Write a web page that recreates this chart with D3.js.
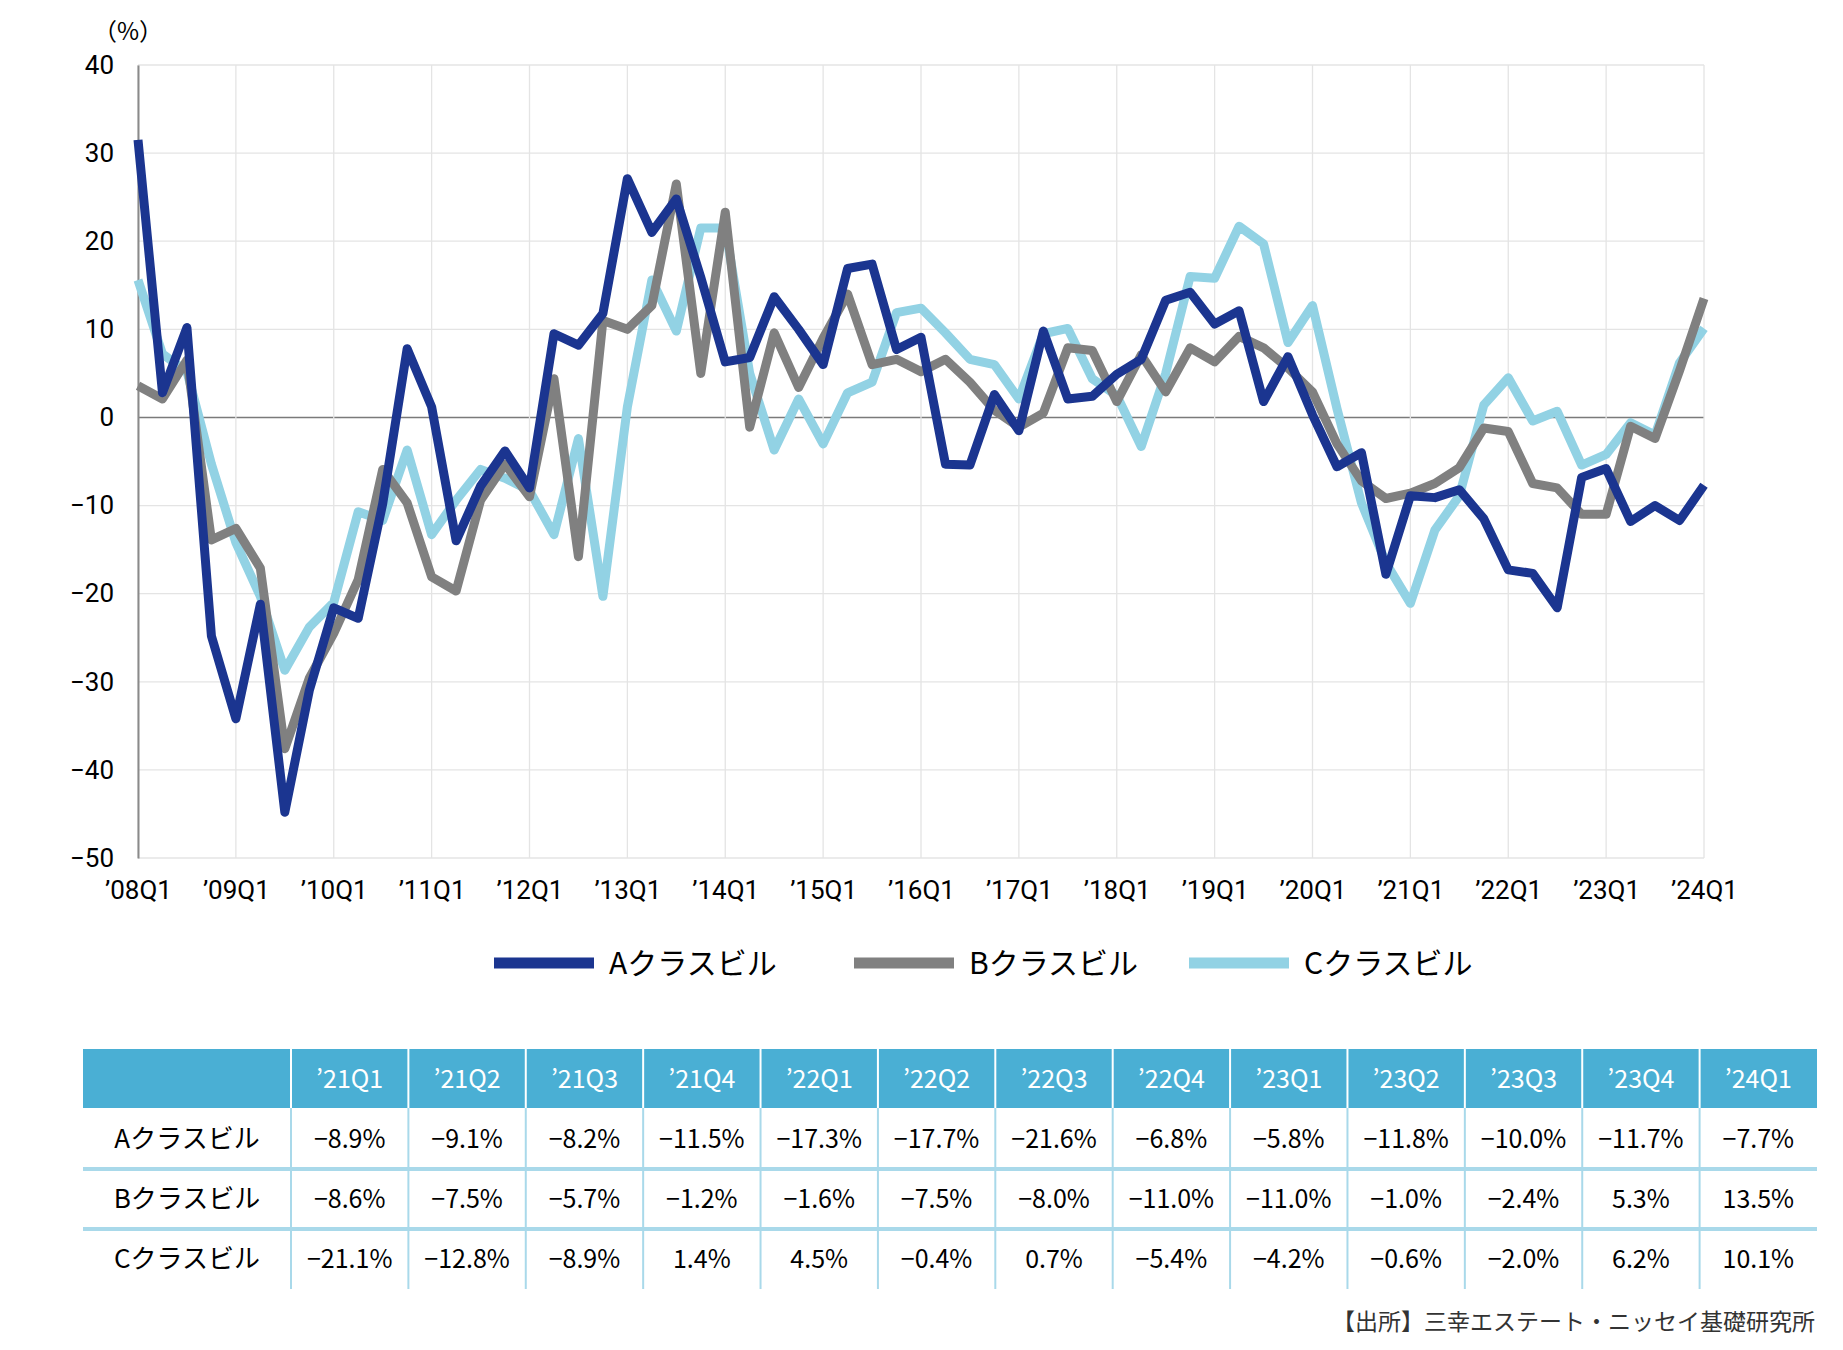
<!DOCTYPE html>
<html>
<head>
<meta charset="utf-8">
<script src="https://cdn.jsdelivr.net/npm/d3@7"></script>
<style>
  body { margin: 0; background: #fff; }
  svg { display: block; font-family: "Noto Sans CJK JP", "Noto Sans", sans-serif; }
</style>
</head>
<body>
<svg id="chart" width="1843" height="1350"></svg>
<script>
// quarterly series, '08Q1 .. '24Q1 (65 points)
const classA = [31.5, 2.8, 10.2, -24.8, -34.2, -21.2, -44.8, -31.0, -21.6, -22.8, -9.8, 7.8, 1.2, -14.0, -7.8, -3.8,
  -8.0, 9.5, 8.2, 11.8, 27.1, 21.0, 24.8, 15.9, 6.3, 6.8, 13.7, 10.0, 6.0, 16.9, 17.4, 7.7,
  9.1, -5.3, -5.4, 2.6, -1.5, 9.8, 2.1, 2.4, 4.9, 6.6, 13.3, 14.2, 10.6, 12.1, 1.8, 6.9,
  0.3, -5.6, -4.0, -17.8, -8.9, -9.1, -8.2, -11.5, -17.3, -17.7, -21.6, -6.8, -5.8, -11.8, -10.0, -11.7, -7.7];
const classB = [3.6, 2.1, 6.5, -13.9, -12.6, -17.1, -37.6, -29.6, -24.5, -18.4, -5.9, -9.7, -18.1, -19.7, -9.4, -5.3,
  -9.0, 4.4, -15.8, 11.0, 10.0, 12.7, 26.5, 5.0, 23.3, -1.1, 9.6, 3.4, 9.0, 14.0, 6.0, 6.6,
  5.2, 6.6, 4.0, 0.8, -1.1, 0.5, 7.9, 7.6, 1.8, 7.1, 2.9, 7.9, 6.3, 9.2, 7.9, 5.6,
  2.9, -3.0, -7.2, -9.2, -8.6, -7.5, -5.7, -1.2, -1.6, -7.5, -8.0, -11.0, -11.0, -1.0, -2.4, 5.3, 13.5];
const classC = [15.6, 7.2, 5.2, -5.3, -14.2, -20.3, -28.7, -23.8, -21.0, -10.7, -11.7, -3.7, -13.3, -9.4, -5.9, -6.9,
  -8.3, -13.3, -2.4, -20.3, 1.2, 15.6, 9.8, 21.5, 21.5, 5.0, -3.7, 2.1, -3.0, 2.8, 4.0, 11.9,
  12.4, 9.6, 6.6, 6.0, 2.1, 9.5, 10.1, 4.4, 2.5, -3.3, 5.0, 16.0, 15.8, 21.7, 19.7, 8.5,
  12.7, 1.0, -9.7, -16.5, -21.1, -12.8, -8.9, 1.4, 4.5, -0.4, 0.7, -5.4, -4.2, -0.6, -2.0, 6.2, 10.1];

const seriesNames = ["Aクラスビル", "Bクラスビル", "Cクラスビル"];
const seriesColors = ["#1b3590", "#808080", "#92d2e4"];

const xTickLabels = ["’08Q1", "’09Q1", "’10Q1", "’11Q1", "’12Q1", "’13Q1", "’14Q1", "’15Q1", "’16Q1",
  "’17Q1", "’18Q1", "’19Q1", "’20Q1", "’21Q1", "’22Q1", "’23Q1", "’24Q1"];
const yTicks = [-50, -40, -30, -20, -10, 0, 10, 20, 30, 40];

const tableQuarters = ["’21Q1", "’21Q2", "’21Q3", "’21Q4", "’22Q1", "’22Q2", "’22Q3", "’22Q4",
  "’23Q1", "’23Q2", "’23Q3", "’23Q4", "’24Q1"];

const sourceText = "【出所】三幸エステート・ニッセイ基礎研究所";

const svg = d3.select("#chart");
const allSeries = [classA, classB, classC];

const plotL = 138, plotR = 1704, plotT = 65, plotB = 858;
const x = d3.scaleLinear().domain([0, classA.length - 1]).range([plotL, plotR]);
const y = d3.scaleLinear().domain([-50, 40]).range([plotB, plotT]);
const yearIdx = xTickLabels.map((d, i) => i * 4);

// grid
svg.append("g")
  .selectAll("line")
  .data(yTicks)
  .join("line")
  .attr("x1", plotL).attr("x2", plotR)
  .attr("y1", d => y(d)).attr("y2", d => y(d))
  .attr("stroke", d => d === 0 ? "#7a7a7a" : "#e4e4e4")
  .attr("stroke-width", d => d === 0 ? 1.5 : 1.3);

svg.append("g")
  .selectAll("line")
  .data(yearIdx)
  .join("line")
  .attr("x1", d => x(d)).attr("x2", d => x(d))
  .attr("y1", plotT).attr("y2", plotB)
  .attr("stroke", "#e4e4e4")
  .attr("stroke-width", 1.3);

// y axis
const yAxis = svg.append("g")
  .attr("transform", `translate(${plotL},0)`)
  .call(d3.axisLeft(y).tickValues(yTicks).tickSize(0).tickPadding(24));
yAxis.select(".domain").attr("stroke", "#8a8a8a").attr("stroke-width", 2);
yAxis.selectAll("text").attr("font-size", 26).attr("fill", "#000")
  .attr("font-family", "Roboto, 'Noto Sans', sans-serif");

svg.append("text")
  .attr("x", 128).attr("y", 40)
  .attr("text-anchor", "middle")
  .attr("font-size", 24)
  .text("（%）");

// x axis
const xAxis = svg.append("g")
  .attr("transform", `translate(0,${plotB})`)
  .call(d3.axisBottom(x)
    .tickValues(yearIdx)
    .tickFormat((d, i) => xTickLabels[i])
    .tickSize(0).tickPadding(23));
xAxis.select(".domain").remove();
xAxis.selectAll("text").attr("font-size", 26).attr("fill", "#000")
  .attr("font-family", "Roboto, 'Noto Sans', sans-serif");

// lines, drawn C, B, A so that A sits on top
const line = d3.line().x((d, i) => x(i)).y(d => y(d));
svg.append("g")
  .selectAll("path")
  .data([2, 1, 0])
  .join("path")
  .attr("d", k => line(allSeries[k]))
  .attr("fill", "none")
  .attr("stroke", k => seriesColors[k])
  .attr("stroke-width", 9)
  .attr("stroke-linejoin", "round");

// legend
const legendX = [494, 854, 1189];
const legend = svg.append("g")
  .selectAll("g")
  .data(seriesNames)
  .join("g")
  .attr("transform", (d, i) => `translate(${legendX[i]},963)`);
legend.append("line")
  .attr("x1", 0).attr("x2", 100)
  .attr("stroke", (d, i) => seriesColors[i])
  .attr("stroke-width", 11);
legend.append("text")
  .attr("x", 115).attr("y", 11)
  .attr("font-size", 30)
  .text(d => d);

// table
const tLeft = 83, tRight = 1817, firstColW = 208;
const colW = (tRight - tLeft - firstColW) / tableQuarters.length;
const rowTops = [1049, 1108, 1169, 1229, 1289];
const fmt = v => (v < 0 ? "−" : "") + Math.abs(v).toFixed(1) + "%";
const tableRows = allSeries.map(s => s.slice(-tableQuarters.length));

const table = svg.append("g");
table.append("rect")
  .attr("x", tLeft).attr("y", rowTops[0])
  .attr("width", tRight - tLeft).attr("height", rowTops[1] - rowTops[0])
  .attr("fill", "#4aafd4");

// header separators
table.selectAll(".hsep")
  .data(tableQuarters)
  .join("line")
  .attr("class", "hsep")
  .attr("x1", (d, i) => tLeft + firstColW + i * colW)
  .attr("x2", (d, i) => tLeft + firstColW + i * colW)
  .attr("y1", rowTops[0]).attr("y2", rowTops[1])
  .attr("stroke", "#ffffff").attr("stroke-width", 2);

// body vertical lines
table.selectAll(".vsep")
  .data(tableQuarters)
  .join("line")
  .attr("class", "vsep")
  .attr("x1", (d, i) => tLeft + firstColW + i * colW)
  .attr("x2", (d, i) => tLeft + firstColW + i * colW)
  .attr("y1", rowTops[1]).attr("y2", rowTops[4])
  .attr("stroke", "#a9d9ea").attr("stroke-width", 2);

// row separators
table.selectAll(".rsep")
  .data([rowTops[2], rowTops[3]])
  .join("line")
  .attr("class", "rsep")
  .attr("x1", tLeft).attr("x2", tRight)
  .attr("y1", d => d).attr("y2", d => d)
  .attr("stroke", "#a9d9ea").attr("stroke-width", 4);

table.selectAll(".htext")
  .data(tableQuarters)
  .join("text")
  .attr("class", "htext")
  .attr("x", (d, i) => tLeft + firstColW + (i + 0.5) * colW)
  .attr("y", (rowTops[0] + rowTops[1]) / 2 + 9)
  .attr("text-anchor", "middle")
  .attr("font-size", 25)
  .attr("fill", "#fff")
  .text(d => d);

const rowsG = table.selectAll(".row")
  .data(tableRows)
  .join("g")
  .attr("class", "row")
  .attr("transform", (d, r) => `translate(0,${(rowTops[r + 1] + rowTops[r + 2]) / 2 + 9})`);
rowsG.append("text")
  .attr("x", tLeft + firstColW / 2)
  .attr("text-anchor", "middle")
  .attr("font-size", 26)
  .text((d, r) => seriesNames[r]);
rowsG.selectAll(".cell")
  .data(d => d)
  .join("text")
  .attr("class", "cell")
  .attr("x", (d, i) => tLeft + firstColW + (i + 0.5) * colW)
  .attr("text-anchor", "middle")
  .attr("font-size", 25)
  .text(d => fmt(d));

svg.append("text")
  .attr("x", 1815).attr("y", 1330)
  .attr("text-anchor", "end")
  .attr("font-size", 23)
  .attr("fill", "#333")
  .text(sourceText);
</script>
</body>
</html>
